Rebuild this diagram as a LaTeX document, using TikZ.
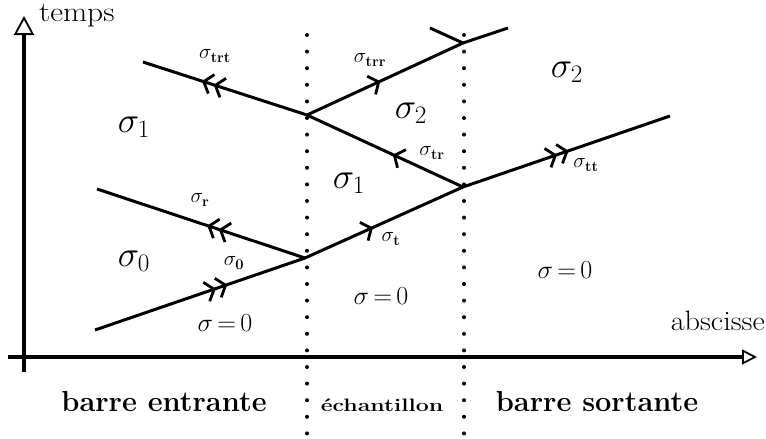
\RequirePackage{fix-cm}
\documentclass[tikz,border=0pt]{standalone}
\usepackage{graphicx}
\usetikzlibrary{arrows.meta,decorations.markings}
\tikzset{
  wave/.style={line width=3pt},
  axis/.style={line width=4.5pt},
  dotline/.style={line width=4pt, line cap=round, dash pattern=on 0pt off 16.6pt},
  sgl/.tip={Straight Barb[length=8pt,width=20pt,line width=2.8pt]},
  dbl/.tip={Straight Barb[length=8pt,width=20pt,line width=2.8pt,sep=1pt] Straight Barb[length=8pt,width=20pt,line width=2.8pt]},
  arrS/.style={postaction={decorate},decoration={markings,mark=at position #1 with {\arrow{sgl}}}},
  arrD/.style={postaction={decorate},decoration={markings,mark=at position #1 with {\arrow{dbl}}}},
  region/.style={font=\fontsize{36}{40}\selectfont, inner sep=0pt},
  zero/.style={font=\fontsize{26}{30}\selectfont, inner sep=0pt},
  small/.style={font=\fontsize{21}{24}\selectfont, inner sep=0pt},
  bar/.style={font=\fontsize{29}{32}\selectfont\bfseries, inner sep=0pt},
  axlabel/.style={font=\fontsize{28}{32}\selectfont, inner sep=0pt},
}
\newcommand{\szero}{$\sigma\mathrel{\mskip-2mu=\mskip-2mu}0$}
\begin{document}
\begin{tikzpicture}[x=1pt,y=-1pt]
\useasboundingbox (0,0) rectangle (766,439);
% coordinates
\coordinate (A) at (95,330);
\coordinate (J1) at (305,258);
\coordinate (R) at (97,189);
\coordinate (J2) at (463,187);
\coordinate (TT) at (670,116);
\coordinate (J3) at (307,115);
\coordinate (TRT) at (143,62);
\coordinate (J4) at (463,43);
\coordinate (TE) at (508,28);
\coordinate (TW) at (430,28);
% axes
\coordinate (vb) at (24,372);
\coordinate (vt) at (24,16);
\coordinate (hl) at (8,357);
\coordinate (hr) at (757,357);
\draw[axis,-{Triangle[length=19pt,width=20pt,line width=1.8pt,fill=white]}] (vb) -- (vt);
\draw[axis,-{Triangle[length=15pt,width=15pt,line width=1.8pt,fill=white]}] (hl) -- (hr);
\node[axlabel,anchor=base west] (temps) at (39,21) {\scalebox{1.12}[1]{temps}};
\node[axlabel,anchor=base east] (absc) at (765,330) {\scalebox{1.08}[1]{abscisse}};
% dotted lines
\coordinate (d1t) at (307,35);
\coordinate (d1b) at (307,436);
\coordinate (d2t) at (464,35);
\coordinate (d2b) at (464,436);
\draw[dotline] (d1t) -- (d1b);
\draw[dotline] (d2t) -- (d2b);
% waves
\draw[wave,arrD=0.63] (A) -- (J1);
\draw[wave,arrD=0.47] (J1) -- (R);
\draw[wave,arrS=0.43] (J1) -- (J2);
\draw[wave,arrD=0.51] (J2) -- (TT);
\draw[wave,arrS=0.45] (J2) -- (J3);
\draw[wave,arrD=0.64] (J3) -- (TRT);
\draw[wave,arrS=0.47] (J3) -- (J4);
\draw[wave] (J4) -- (TE);
\draw[wave] (J4) -- (TW);
% small labels
\node[small] (l0) at (234,263) {$\sigma_{\mathbf{0}}$};
\node[small] (lr) at (200,200) {$\sigma_{\mathbf{r}}$};
\node[small] (lt) at (391,239) {$\sigma_{\mathbf{t}}$};
\node[small] (ltt) at (586,165) {$\sigma_{\mathbf{tt}}$};
\node[small] (ltr) at (432,153) {$\sigma_{\mathbf{tr}}$};
\node[small] (ltrt) at (215,56) {$\sigma_{\mathbf{trt}}$};
\node[small] (ltrr) at (370,60) {$\sigma_{\mathbf{trr}}$};
% regions
\node[region] (s1a) at (134,127) {$\sigma_1$};
\node[region] (s0a) at (134,261) {$\sigma_0$};
\node[region] (s1b) at (349,183) {$\sigma_1$};
\node[region] (s2b) at (411,113) {$\sigma_2$};
\node[region] (s2c) at (567,72) {$\sigma_2$};
\node[zero] (z1) at (225,323) {\szero};
\node[zero] (z2) at (381,296) {\szero};
\node[zero] (z3) at (565,270) {\szero};
% bottom labels
\node[bar] (be) at (164,402) {barre entrante};
\node[bar,font=\fontsize{18}{22}\selectfont\bfseries] (ech) at (382,405) {\scalebox{1.28}[1]{échantillon}};
\node[bar] (bs) at (597,402) {barre sortante};
\end{tikzpicture}
\end{document}
